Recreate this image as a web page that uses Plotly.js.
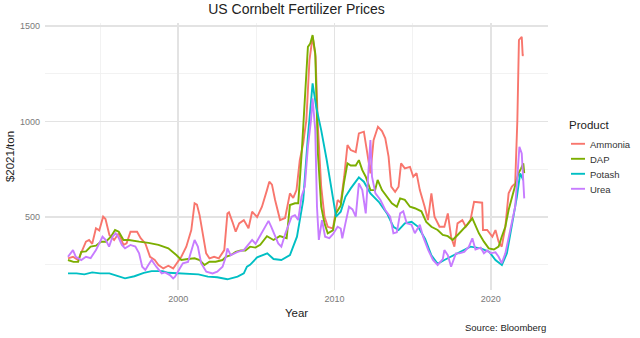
<!DOCTYPE html>
<html>
<head>
<meta charset="utf-8">
<script src="https://cdn.plot.ly/plotly-3.0.1.min.js"></script>
<style>html,body{margin:0;padding:0;background:#fff;}#chart{width:640px;height:338px;}</style>
</head>
<body>
<div id="chart"></div>
<script>
// ---- Data (decimal years, $2021/ton) ----
var products = ["Ammonia", "DAP", "Potash", "Urea"];
var productColors = ["#F8766D", "#7CAE00", "#00BFC4", "#C77CFF"];

var ammoniaYear = [1992.95,1993.27,1993.6,1994.1,1994.3,1994.5,1994.74,1994.95,1995.2,1995.35,1995.6,1995.9,1996.2,1996.5,1996.7,1996.95,1997.37,1997.6,1997.9,1998.2,1998.5,1998.74,1999.05,1999.37,1999.68,1999.9,2000.2,2000.52,2000.84,2001.05,2001.2,2001.37,2001.58,2001.79,2002.0,2002.3,2002.6,2002.95,2003.15,2003.25,2003.47,2003.68,2003.9,2004.2,2004.5,2004.73,2005.05,2005.36,2005.68,2005.83,2006.0,2006.2,2006.52,2006.84,2007.15,2007.36,2007.57,2007.78,2008.0,2008.2,2008.4,2008.6,2008.79,2008.94,2009.15,2009.36,2009.57,2009.9,2010.2,2010.4,2010.62,2010.83,2011.04,2011.36,2011.56,2011.88,2012.1,2012.3,2012.5,2012.78,2013.04,2013.25,2013.46,2013.63,2013.88,2014.1,2014.26,2014.5,2014.83,2015.04,2015.25,2015.46,2015.77,2015.98,2016.2,2016.4,2016.72,2017.03,2017.25,2017.46,2017.67,2017.87,2018.18,2018.4,2018.7,2018.93,2019.45,2019.5,2019.77,2020.1,2020.3,2020.5,2020.7,2020.93,2021.14,2021.35,2021.56,2021.7,2021.8,2021.98,2022.04,2022.1];
var ammoniaPrice = [284,292,275,371,380,360,441,430,502,490,406,380,415,354,362,423,423,389,362,292,275,249,231,245,231,255,292,345,432,572,565,510,397,310,284,292,284,327,519,525,475,423,467,484,441,528,500,554,641,685,670,589,484,495,624,600,641,798,886,1008,1322,1444,1339,973,659,502,449,440,589,575,711,877,851,840,938,947,833,729,903,973,950,912,816,659,632,659,781,755,763,711,730,641,554,484,624,502,449,449,519,397,345,467,484,450,484,580,575,432,432,397,432,371,345,449,624,659,676,1008,1427,1444,1348,1345];

var dapYear = [1992.95,1993.3,1993.6,1993.8,1994.1,1994.4,1994.74,1995.06,1995.37,1995.7,1995.96,1996.2,1996.5,1996.85,1997.5,1998.1,1998.74,1999.37,1999.9,2000.2,2000.63,2001.05,2001.37,2001.68,2002.0,2002.4,2002.84,2003.05,2003.36,2003.68,2004.0,2004.3,2004.6,2004.94,2005.25,2005.68,2006.1,2006.5,2006.94,2007.15,2007.47,2007.68,2007.9,2008.1,2008.3,2008.45,2008.6,2008.77,2008.94,2009.15,2009.36,2009.57,2009.9,2010.1,2010.4,2010.6,2010.83,2011.04,2011.36,2011.56,2011.78,2012.0,2012.3,2012.6,2012.76,2013.04,2013.36,2013.67,2013.99,2014.2,2014.5,2014.83,2015.14,2015.56,2015.87,2016.2,2016.6,2016.93,2017.25,2017.56,2017.88,2018.2,2018.5,2018.82,2019.0,2019.24,2019.56,2019.87,2020.2,2020.5,2020.7,2020.93,2021.14,2021.35,2021.56,2021.77,2021.94,2022.08,2022.14];
var dapPrice = [275,265,265,318,320,345,350,371,371,397,432,423,380,380,371,365,354,336,300,275,280,284,275,249,266,266,275,292,300,318,325,325,345,340,355,400,380,400,389,563,572,572,833,1095,1391,1409,1453,1357,833,554,467,415,430,520,560,676,781,770,770,798,746,711,641,641,694,641,606,572,554,598,590,554,546,530,475,449,432,406,400,380,406,432,460,493,460,415,371,336,330,345,397,449,537,606,659,729,755,781,730];

var potashYear = [1992.95,1993.5,1994.0,1994.5,1995.0,1995.6,1996.0,1996.6,1997.2,1997.8,1998.3,1999.0,1999.37,2000.0,2000.6,2001.3,2001.9,2002.5,2003.15,2003.8,2004.2,2004.4,2004.6,2005.05,2005.7,2006.1,2006.6,2007.15,2007.6,2008.0,2008.3,2008.6,2008.83,2009.15,2009.5,2009.9,2010.1,2010.4,2010.7,2011.04,2011.56,2011.88,2012.3,2012.83,2013.36,2013.77,2014.1,2014.5,2014.93,2015.35,2015.8,2016.2,2016.6,2017.03,2017.45,2018.1,2018.7,2019.36,2019.9,2020.3,2020.71,2021.03,2021.35,2021.67,2021.88,2022.08];
var potashPrice = [205,205,200,210,205,205,195,179,190,208,217,217,208,205,200,200,188,185,174,188,205,240,250,289,310,280,275,301,397,589,920,1200,1077,955,800,600,502,528,606,650,708,685,624,580,519,449,432,467,475,449,385,300,255,275,292,318,345,336,318,275,249,310,449,606,729,694];

var ureaYear = [1992.95,1993.27,1993.45,1993.8,1994.1,1994.4,1994.74,1994.95,1995.16,1995.37,1995.58,1995.8,1996.0,1996.2,1996.4,1996.6,1996.95,1997.26,1997.5,1997.7,1997.9,1998.1,1998.3,1998.6,1998.95,1999.16,1999.47,1999.68,1999.8,2000.1,2000.3,2000.63,2000.95,2001.05,2001.26,2001.47,2001.8,2002.2,2002.5,2002.84,2003.05,2003.15,2003.36,2003.8,2004.2,2004.4,2004.73,2004.95,2005.15,2005.47,2005.78,2005.95,2006.1,2006.4,2006.6,2006.84,2007.26,2007.47,2007.68,2007.89,2008.1,2008.3,2008.5,2008.6,2008.77,2008.88,2009.0,2009.2,2009.4,2009.67,2009.9,2010.2,2010.4,2010.5,2010.7,2010.93,2011.15,2011.36,2011.56,2011.78,2012.0,2012.2,2012.3,2012.4,2012.62,2012.94,2013.25,2013.56,2013.77,2013.99,2014.2,2014.4,2014.62,2014.93,2015.14,2015.46,2015.67,2016.0,2016.3,2016.6,2016.93,2017.03,2017.25,2017.46,2017.77,2017.98,2018.3,2018.6,2018.82,2019.02,2019.35,2019.56,2019.77,2019.98,2020.3,2020.5,2020.7,2020.93,2021.14,2021.35,2021.56,2021.7,2021.83,2021.98,2022.08,2022.14];
var ureaPrice = [292,327,292,275,292,285,327,362,397,380,345,397,415,390,354,336,354,345,310,240,223,250,275,240,205,210,196,179,188,231,258,265,345,380,345,258,214,205,214,240,292,336,300,318,327,345,380,360,389,432,480,450,420,362,345,410,502,510,484,606,659,868,1008,1121,955,554,380,484,397,390,410,449,440,389,467,554,540,502,676,641,519,816,903,711,624,589,537,502,415,420,519,530,467,460,415,460,397,327,275,249,280,327,300,240,310,310,318,345,389,330,340,310,325,310,315,292,258,310,397,484,554,711,868,833,694,598];

var yTickVals = [500, 1000, 1500];
var yMinorVals = [250, 750, 1250];
var xTickVals = [2000, 2010, 2020];
var xMinorVals = [1995, 2005, 2015];

// ---- Chart ----
var xs = [ammoniaYear, dapYear, potashYear, ureaYear];
var ys = [ammoniaPrice, dapPrice, potashPrice, ureaPrice];
var traces = products.map(function (p, i) {
  return {
    type: "scatter", mode: "lines", name: p,
    x: xs[i], y: ys[i],
    line: {color: productColors[i], width: 1.9}
  };
});

var font = "Liberation Sans, Arial, sans-serif";
var layout = {
  width: 640, height: 338,
  margin: {l: 45, r: 85, t: 23, b: 48, pad: 0},
  paper_bgcolor: "#ffffff", plot_bgcolor: "#ffffff",
  font: {family: font, color: "#333333"},
  title: {text: "US Cornbelt Fertilizer Prices", x: 0.5, xref: "paper", xanchor: "center",
          y: 1, yref: "container", yanchor: "top", pad: {t: 4},
          font: {family: font, size: 14, color: "#222222"}},
  xaxis: {
    range: [1991.48, 2023.66], tickvals: xTickVals, ticktext: xTickVals.map(String),
    showgrid: true, gridcolor: "#e3e3e3", gridwidth: 1.5,
    minor: {tickvals: xMinorVals, showgrid: true, gridcolor: "#efefef", gridwidth: 0.8, ticks: ""},
    zeroline: false, showline: false, ticks: "", ticklabelstandoff: 2,
    tickfont: {family: font, size: 9, color: "#7a7a7a"},
    title: {text: "Year", standoff: 5, font: {family: font, size: 11.5, color: "#222222"}},
    automargin: false
  },
  yaxis: {
    range: [118, 1516], tickvals: yTickVals, ticktext: yTickVals.map(String),
    showgrid: true, gridcolor: "#e3e3e3", gridwidth: 1.5,
    minor: {tickvals: yMinorVals, showgrid: true, gridcolor: "#efefef", gridwidth: 0.8, ticks: ""},
    zeroline: false, showline: false, ticks: "", ticklabelstandoff: 4,
    tickfont: {family: font, size: 9, color: "#7a7a7a"},
    title: {text: "$2021/ton", standoff: 2, font: {family: font, size: 11.5, color: "#222222"}},
    automargin: false
  },
  legend: {
    x: 0.988, xanchor: "left", y: 0.584, yanchor: "top",
    bgcolor: "rgba(0,0,0,0)", borderwidth: 0,
    font: {family: font, size: 9.5, color: "#333333"},
    tracegroupgap: 0, itemwidth: 30
  },
  annotations: [{
    text: "Source: Bloomberg", xref: "paper", yref: "paper", x: 1, y: -0.1386,
    xanchor: "right", yanchor: "middle", showarrow: false,
    font: {family: font, size: 9.5, color: "#222222"}
  }, {
    text: "Product", xref: "paper", yref: "paper", x: 1.0373, y: 0.618,
    xanchor: "left", yanchor: "middle", showarrow: false,
    font: {family: font, size: 11.5, color: "#222222"}
  }],
  showlegend: true
};

function parseT(el) {
  var m = /translate\(\s*([-\d.]+)[ ,]+([-\d.]+)\s*\)/.exec(el.getAttribute("transform") || "");
  return m ? [parseFloat(m[1]), parseFloat(m[2])] : null;
}

function tweakLegend(gd) {
  var items = gd.querySelectorAll(".legend .traces");
  if (!items.length) return;
  // tighten legend row spacing to match the reference (15px per entry)
  var t0 = parseT(items[0]);
  if (t0) items.forEach(function (g, i) {
    g.setAttribute("transform", "translate(" + t0[0] + "," + (t0[1] + i * 15) + ")");
  });
  // short legend keys, as in the reference: show only the last 14px of each key line
  items.forEach(function (g) {
    g.querySelectorAll("path").forEach(function (p) {
      p.style.setProperty("stroke-dasharray", "14px, 1000px", "important");
      p.style.setProperty("stroke-dashoffset", "-16px", "important");
    });
  });
  var leg = gd.querySelector("g.legend");
  if (!leg) return;
  var sb = leg.querySelector(".scrollbox");
  if (sb) sb.removeAttribute("clip-path");
  var txt = items[0].querySelector("text.legendtext");
  var t = parseT(leg);
  if (t && txt) {
    var r = txt.getBoundingClientRect();
    var gr = gd.getBoundingClientRect();
    var dx = 590 - (r.left - gr.left);
    var dy = 144 - ((r.top + r.bottom) / 2 - gr.top);
    leg.setAttribute("transform", "translate(" + (t[0] + dx) + "," + (t[1] + dy) + ")");
  }
}

Plotly.newPlot("chart", traces, layout, {staticPlot: true, displayModeBar: false}).then(tweakLegend);
</script>
</body>
</html>
